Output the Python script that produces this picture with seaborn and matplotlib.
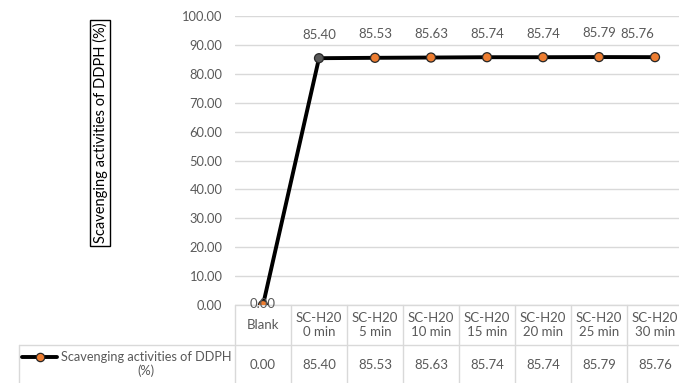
import matplotlib
matplotlib.use("Agg")
import matplotlib.pyplot as plt
import seaborn as sns
import pandas as pd
from matplotlib.lines import Line2D

# datos
categorias = ["Blank", "SC-H20\n0 min", "SC-H20\n5 min", "SC-H20\n10 min", "SC-H20\n15 min",
              "SC-H20\n20 min", "SC-H20\n25 min", "SC-H20\n30 min"]
valores = [0.00, 85.40, 85.53, 85.63, 85.74, 85.74, 85.79, 85.76]
serie = "Scavenging activities of DDPH (%)"
yticks = [0, 10, 20, 30, 40, 50, 60, 70, 80, 90, 100]

GRIS = "#595959"
REJILLA = "#D9D9D9"
NARANJA = "#ED7D31"

sns.set_theme(style="white")
plt.rcParams["font.family"] = ["Lato", "DejaVu Sans"]
plt.rcParams["text.color"] = GRIS

fig = plt.figure(figsize=(6.79, 3.83), dpi=100)
W, H = 679, 383
ax = fig.add_axes([235 / W, 78 / H, 448 / W, 289 / H])

df = pd.DataFrame({"pos": range(len(valores)), "valor": valores})
sns.lineplot(data=df, x="pos", y="valor", color="black", lw=2.8, ax=ax, zorder=3)
colores = [NARANJA, GRIS] + [NARANJA] * (len(valores) - 2)
sns.scatterplot(data=df, x="pos", y="valor", hue="pos", palette=colores, legend=False,
                s=42, edgecolor="#262626", linewidth=0.9, ax=ax, zorder=4)

ax.set_xlim(-0.5, len(valores) - 0.5)
ax.set_ylim(0, 100)
ax.set_yticks(yticks)
ax.set_yticklabels([f"{v:.2f}" for v in yticks], color=GRIS, fontsize=9.3)
ax.tick_params(axis="y", length=0, pad=9)
ax.set_xticks([])
ax.set_xlabel("")
ax.set_ylabel("")
ax.grid(axis="y", color=REJILLA, lw=1)
for s in ax.spines.values():
    s.set_visible(False)

# etiquetas de datos
desplaz = [(0, 1)] + [(0, 17)] * (len(valores) - 2) + [(-13, 17)]
for i, v in enumerate(valores):
    ax.annotate(f"{v:.2f}", (i, v), xytext=desplaz[i], textcoords="offset points",
                ha="center", va="center", fontsize=9.5, color=GRIS, zorder=5,
                annotation_clip=False)

# titulo del eje con recuadro
fig.text(100 / W, 1 - 133 / H, serie, rotation=90, ha="center", va="center",
         fontsize=10.5, color="black",
         bbox=dict(boxstyle="square,pad=0.2", fc="white", ec="black", lw=1))

# tabla de datos debajo del grafico
tr = ax.get_xaxis_transform()
h1 = -40 / 289
h2 = -80 / 289
izq = -0.5 - 216 / 56
n = len(valores)
kw = dict(transform=tr, color=REJILLA, lw=1, clip_on=False)
ax.add_line(Line2D([-0.5, n - 0.5], [0, 0], **kw))
ax.add_line(Line2D([izq, n - 0.5], [h1, h1], **kw))
ax.add_line(Line2D([izq, izq], [h1, h2], **kw))
for i in range(n + 1):
    ax.add_line(Line2D([i - 0.5, i - 0.5], [0, h2], **kw))
for i, (c, v) in enumerate(zip(categorias, valores)):
    ax.text(i, h1 / 2, c, transform=tr, ha="center", va="center", fontsize=9.5,
            color=GRIS, linespacing=1.15)
    ax.text(i, (h1 + h2) / 2, f"{v:.2f}", transform=tr, ha="center", va="center",
            fontsize=9.5, color=GRIS)

# clave de leyenda en la tabla
fig.text(146 / W, 1 - 364 / H, "Scavenging activities of DDPH\n(%)", ha="center",
         va="center", fontsize=9.2, color=GRIS, linespacing=1.15)
fig.add_artist(Line2D([22 / W, 57 / W], [1 - 357 / H] * 2, color="black", lw=2.8,
                      transform=fig.transFigure))
fig.add_artist(Line2D([39.5 / W], [1 - 357 / H], color="black", marker="o", ms=6,
                      mfc=NARANJA, mec="#262626", mew=0.9, transform=fig.transFigure))

fig.savefig("out.png", dpi=100)
